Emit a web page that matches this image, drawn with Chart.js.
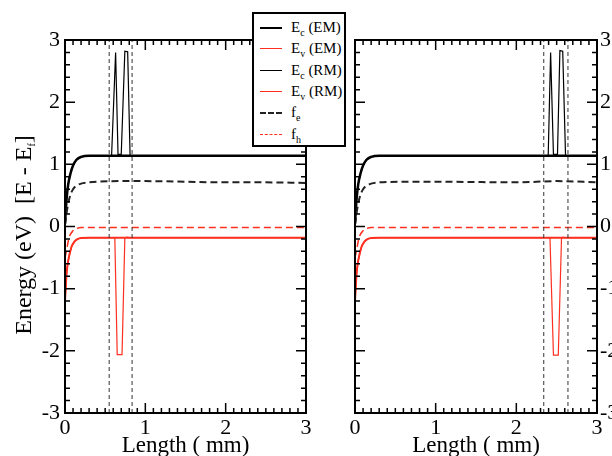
<!DOCTYPE html>
<html>
<head>
<meta charset="utf-8">
<script src="https://cdn.jsdelivr.net/npm/chart.js@4.4.0/dist/chart.umd.min.js"></script>
<style>
  body { margin: 0; background: #fff; }
  #wrap { position: relative; width: 612px; height: 456px; overflow: hidden; background: #fff; font-family: "Liberation Serif", serif; }
  canvas { position: absolute; top: 0; }
  #leftCanvas { left: 0; }
  #rightCanvas { left: 320px; }
  #ytitle { position: absolute; left: -127px; top: 220px; width: 300px; height: 30px; line-height: 30px; text-align: center;
            font-size: 24px; transform: rotate(-90deg); white-space: pre; color: #000; }
  #legend { position: absolute; left: 252px; top: 12px; width: 90px; height: 131px; border: 2px solid #000; background: #fff;
            font-size: 15px; color: #000; z-index: 5; }
  .row { position: absolute; left: 0; height: 20px; line-height: 20px; }
  .sw { position: absolute; left: 6px; width: 22px; top: 10px; }
  .lab { position: absolute; left: 37px; top: 0; white-space: nowrap; }
  sub { font-size: 10px; vertical-align: -4px; }
</style>
</head>
<body>
<div id="wrap">
  <canvas id="leftCanvas" width="330" height="456"></canvas>
  <canvas id="rightCanvas" width="292" height="456"></canvas>
  <div id="ytitle">Energy (eV)  [E - E<sub>f</sub>]</div>
  <div id="legend">
    <div class="row" style="top:3px"><div class="sw" style="border-top:2.5px solid #000"></div><div class="lab">E<sub>c</sub> (EM)</div></div>
    <div class="row" style="top:24px"><div class="sw" style="border-top:1.5px solid #ff3020"></div><div class="lab">E<sub>v</sub> (EM)</div></div>
    <div class="row" style="top:46px"><div class="sw" style="border-top:1.5px solid #000"></div><div class="lab">E<sub>c</sub> (RM)</div></div>
    <div class="row" style="top:67px"><div class="sw" style="border-top:1.5px solid #ff3020"></div><div class="lab">E<sub>v</sub> (RM)</div></div>
    <div class="row" style="top:88px"><div class="sw" style="border-top:2px dashed #222"></div><div class="lab">f<sub>e</sub></div></div>
    <div class="row" style="top:110px"><div class="sw" style="border-top:1.5px dashed #ff3020"></div><div class="lab">f<sub>h</sub></div></div>
  </div>
</div>
<script>
// equilibrium-model curves (same in both panels)
let ecX = [0, 0.02, 0.04, 0.07, 0.1, 0.14, 0.2, 0.3, 1, 2, 3];
let ecEM = [0.05, 0.45, 0.68, 0.86, 0.98, 1.07, 1.12, 1.14, 1.14, 1.14, 1.14];
let evX = [0, 0.02, 0.04, 0.08, 0.12, 0.16, 0.2, 0.3, 1, 2, 3];
let evEM = [-1.2, -0.75, -0.55, -0.33, -0.24, -0.2, -0.185, -0.18, -0.18, -0.18, -0.18];
let fhX = [0, 0.02, 0.05, 0.1, 0.15, 0.2, 1, 2, 3];
let fhY = [-0.5, -0.38, -0.18, -0.07, -0.03, -0.015, -0.015, -0.015, -0.015];
let feX = [0, 0.03, 0.06, 0.1, 0.15, 0.2, 0.3, 0.7, 1, 2, 2.5, 3];
let feLeft = [0.03, 0.3, 0.48, 0.6, 0.66, 0.69, 0.71, 0.73, 0.73, 0.71, 0.71, 0.70];
let feRight = [0.03, 0.3, 0.48, 0.6, 0.66, 0.69, 0.71, 0.72, 0.72, 0.71, 0.73, 0.71];

// rm curves, left panel
let ecRmLeftX = [0, 0.02, 0.04, 0.07, 0.1, 0.14, 0.2, 0.3, 0.58, 0.63, 0.66, 0.7, 0.745, 0.78, 0.81, 1, 3];
let ecRmLeftY = [0.05, 0.45, 0.68, 0.86, 0.98, 1.07, 1.12, 1.14, 1.14, 2.8, 1.16, 1.16, 2.82, 2.81, 1.14, 1.14, 1.14];
let evRmLeftX = [0, 0.02, 0.04, 0.08, 0.12, 0.16, 0.2, 0.3, 0.62, 0.65, 0.71, 0.745, 0.77, 0.8, 1, 3];
let evRmLeftY = [-1.2, -0.75, -0.55, -0.33, -0.24, -0.2, -0.185, -0.18, -0.18, -2.06, -2.06, -0.19, -0.17, -0.18, -0.18, -0.18];
// rm curves, right panel
let ecRmRightX = [0, 0.02, 0.04, 0.07, 0.1, 0.14, 0.2, 0.3, 2.395, 2.425, 2.46, 2.51, 2.54, 2.575, 2.61, 3];
let ecRmRightY = [0.05, 0.45, 0.68, 0.86, 0.98, 1.07, 1.12, 1.14, 1.14, 2.8, 1.16, 1.16, 2.83, 2.82, 1.14, 1.14];
let evRmRightX = [0, 0.02, 0.04, 0.08, 0.12, 0.16, 0.2, 0.3, 2.417, 2.46, 2.52, 2.56, 2.58, 2.6, 3];
let evRmRightY = [-1.2, -0.75, -0.55, -0.33, -0.24, -0.2, -0.185, -0.18, -0.18, -2.07, -2.07, -0.19, -0.17, -0.18, -0.18];

// vertical marker positions
let markLeft = [0.55, 0.835];
let markRight = [2.34, 2.64];

let red = "#ff3020";
let serif = "'Liberation Serif', 'Times New Roman', serif";

function pts(xs, ys) {
    return xs.map((x, i) => ({ x: x, y: ys[i] }));
}

function vline(x) {
    return {
        data: [{ x: x, y: -3 }, { x: x, y: 3 }],
        borderColor: "#333", borderWidth: 1, borderDash: [4, 3], tension: 0,
    };
}

// frame + inward ticks on all four sides
let framePlugin = {
    id: "frame",
    afterDraw(chart) {
        let c = chart.ctx, a = chart.chartArea;
        let xs = chart.scales.x, ys = chart.scales.y;
        c.save();
        c.strokeStyle = "#000";
        c.lineWidth = 1.5;
        c.beginPath();
        for (let i = 0; i <= 30; i++) {
            let px = xs.getPixelForValue(i / 10);
            let len = i % 10 == 0 ? 10 : 5;
            c.moveTo(px, a.bottom); c.lineTo(px, a.bottom - len);
            c.moveTo(px, a.top); c.lineTo(px, a.top + len);
        }
        for (let i = 0; i <= 30; i++) {
            let v = -3 + i * 0.2;
            let py = ys.getPixelForValue(v);
            let len = i % 5 == 0 ? 10 : 5;
            c.moveTo(a.left, py); c.lineTo(a.left + len, py);
            c.moveTo(a.right, py); c.lineTo(a.right - len, py);
        }
        c.stroke();
        c.lineWidth = 2;
        c.strokeRect(a.left, a.top, a.right - a.left, a.bottom - a.top);
        c.restore();
    }
};

function makeChart(id, side, fe, ecRm, evRm, marks, pad) {
    let ctx = document.getElementById(id).getContext("2d");
    return new Chart(ctx, {
        type: "scatter",
        data: {
            datasets: [
                vline(marks[0]),
                vline(marks[1]),
                { label: "fh", data: pts(fhX, fhY), borderColor: red, borderWidth: 1.5, borderDash: [7, 4], cubicInterpolationMode: "monotone" },
                { label: "fe", data: pts(feX, fe), borderColor: "#222", borderWidth: 2, borderDash: [7, 4], cubicInterpolationMode: "monotone" },
                { label: "Ev (RM)", data: evRm, borderColor: red, borderWidth: 1.2, tension: 0 },
                { label: "Ec (RM)", data: ecRm, borderColor: "#000", borderWidth: 1.2, tension: 0 },
                { label: "Ev (EM)", data: pts(evX, evEM), borderColor: red, borderWidth: 2, cubicInterpolationMode: "monotone" },
                { label: "Ec (EM)", data: pts(ecX, ecEM), borderColor: "#000", borderWidth: 2.5, cubicInterpolationMode: "monotone" },
            ].map(d => Object.assign({ showLine: true, pointRadius: 0, fill: false }, d))
        },
        options: {
            responsive: false,
            animation: false,
            devicePixelRatio: 1,
            layout: { padding: pad },
            plugins: { legend: { display: false }, tooltip: { enabled: false } },
            scales: {
                x: {
                    type: "linear", min: 0, max: 3,
                    grid: { display: false, drawTicks: false },
                    border: { display: false },
                    ticks: { stepSize: 1, color: "#000", padding: 2, font: { family: serif, size: 22 } },
                    title: { display: true, text: "Length ( mm)", color: "#000", padding: { top: 0, bottom: -4 }, font: { family: serif, size: 23 } },
                    afterFit: s => { s.height = 43; },
                },
                y: {
                    type: "linear", min: -3, max: 3, position: side,
                    grid: { display: false, drawTicks: false },
                    border: { display: false },
                    ticks: { stepSize: 1, color: "#000", padding: side == "left" ? 5 : 3, font: { family: serif, size: 22 } },
                    afterFit: s => { s.width = side == "left" ? 65 : 15; },
                },
            },
        },
        plugins: [framePlugin],
    });
}

let leftChart = makeChart("leftCanvas", "left", feLeft, pts(ecRmLeftX, ecRmLeftY), pts(evRmLeftX, evRmLeftY), markLeft,
    { top: 40, right: 24, left: 0, bottom: 0 });
let rightChart = makeChart("rightCanvas", "right", feRight, pts(ecRmRightX, ecRmRightY), pts(evRmRightX, evRmRightY), markRight,
    { top: 40, right: 0, left: 35, bottom: 0 });
</script>
</body>
</html>
